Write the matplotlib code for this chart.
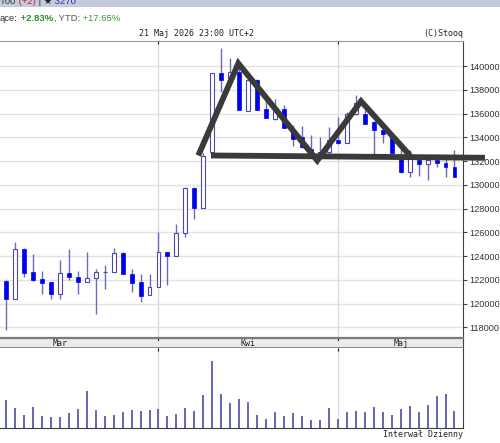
import matplotlib
matplotlib.use('agg')
import matplotlib.pyplot as plt
from matplotlib.patches import Rectangle

# daily candles, 9 Mar - 21 May 2026 (index = trading day on the chart)
opens = [121920, 120400, 124600, 122620, 122080, 121800, 120800, 122560, 122220, 121800,
         122140, 122640, 122640, 124240, 122500, 121780, 120710, 121380, 124360, 124030,
         125930, 129770, 128030, 132800, 139450, 139000, 139500, 136220, 138850, 136410,
         135550, 136360, 134560, 134030, 133000, 132800, 132760, 133800, 133560, 136000,
         136000, 135260, 134590, 134030, 132180, 131080, 132100, 131740, 132070, 131850,
         131510]
highs = [121950, 125220, 124650, 124160, 122780, 121800, 123680, 124580, 122780, 124320,
         122920, 123260, 124690, 124380, 122900, 122480, 122500, 126060, 124360, 126690,
         129850, 129850, 132700, 139450, 141550, 140640, 139860, 138880, 138900, 137060,
         137200, 136690, 135050, 134920, 134170, 134030, 134870, 135700, 136100, 137580,
         136280, 135400, 134920, 134100, 133240, 132910, 132460, 132270, 132630, 132460,
         132910]
lows = [117800, 120400, 122220, 121860, 120820, 120380, 120380, 121940, 120820, 121800,
        119100, 121240, 122640, 122500, 120940, 120120, 120710, 121380, 121540, 124030,
        125570, 127100, 128030, 132700, 137850, 138800, 136270, 136220, 136300, 135600,
        135430, 134760, 133300, 133130, 132500, 132350, 132600, 133400, 133500, 135900,
        135100, 132630, 133520, 132600, 131000, 130640, 130780, 130420, 131480, 130670,
        130650]
closes = [120400, 124580, 122560, 122000, 121720, 120820, 122560, 122220, 121800, 122140,
          122640, 122640, 124240, 122500, 121720, 120660, 121380, 124340, 124030, 125930,
          129770, 128030, 132420, 139450, 138850, 139500, 136270, 138800, 136330, 135650,
          136200, 134760, 133850, 133200, 132700, 132400, 133800, 133500, 136000, 136900,
          135150, 134590, 134310, 132690, 131080, 132320, 131740, 132070, 131850, 131510,
          130670]
volumes = [85, 60, 40, 63, 35, 33, 32, 45, 57, 112, 55, 35, 40, 48, 54, 50, 54, 57, 35, 42,
           60, 50, 98, 200, 101, 74, 88, 79, 38, 27, 48, 36, 45, 35, 25, 23, 59, 27, 48, 50,
           48, 63, 48, 38, 57, 65, 48, 70, 97, 102, 50]

month_names = ["Mar", "Kwi", "Maj"]
month_label_pos = [6, 27, 44]
month_starts = [17, 37]
price_ticks = list(range(118000, 140001, 2000))

# drawn pattern (candle index, price)
pattern_x = [21.44, 25.9, 34.7, 39.58, 45.04]
pattern_y = [132470, 140230, 132050, 137040, 132470]
neck_x = [22.85, 53.4]
neck_y = [132470, 132280]

W, H = 500, 443
fig = plt.figure(figsize=(W / 100, H / 100), dpi=100)


def box(x0, y0, x1, y1):
    return [x0 / W, 1 - y1 / H, (x1 - x0) / W, (y1 - y0) / H]


ax = fig.add_axes(box(0, 41, 463, 338))
band = fig.add_axes(box(0, 338, 463, 348))
axv = fig.add_axes(box(0, 348, 463, 428))

xlim = (-0.67, 50.95)
n = len(opens)
xs = list(range(n))

# price panel
for p in price_ticks:
    ax.axhline(p, color='#e2e2e2', lw=1, zorder=0)
for m in month_starts:
    ax.axvline(m, color='#dadada', lw=1, zorder=0)
    axv.axvline(m, color='#dadada', lw=1, zorder=0)

ax.vlines(xs, lows, highs, color='#6a6ab8', lw=1, zorder=2)
for i in xs:
    o, c = opens[i], closes[i]
    lo, hi = min(o, c), max(o, c)
    if c < o:
        ax.add_patch(Rectangle((i - 0.22, lo), 0.44, hi - lo, facecolor='#0000ee',
                               edgecolor='#0000ee', lw=0.5, zorder=3))
    else:
        ax.add_patch(Rectangle((i - 0.22, lo), 0.44, hi - lo, facecolor='white',
                               edgecolor='#4a4aa8', lw=0.8, zorder=3))

ax.plot(pattern_x, pattern_y, color='#3a3a3a', lw=4.2, solid_joinstyle='miter',
        solid_capstyle='butt', clip_on=False, zorder=6)
ax.plot(neck_x, neck_y, color='#3a3a3a', lw=4.2, solid_capstyle='butt',
        clip_on=False, zorder=6)

ax.set_xlim(*xlim)
ax.set_ylim(117095, 142114)
ax.yaxis.tick_right()
ax.set_yticks(price_ticks)
ax.set_yticklabels([str(p) for p in price_ticks], fontsize=6.6,
                   fontfamily='Liberation Sans', color='#333333')
ax.tick_params(axis='y', length=3, width=0.8, pad=1.5, color='#444444')
ax.set_xticks(month_starts)
ax.tick_params(axis='x', length=2, width=0.8, direction='in', top=True, bottom=False,
               labelbottom=False, color='#222222')
for s in ['left', 'bottom']:
    ax.spines[s].set_visible(False)
ax.spines['top'].set_color('#999999')
ax.spines['right'].set_color('#404040')

# month band
band.set_xlim(*xlim)
band.set_ylim(0, 1)
band.set_facecolor('#ebebeb')
band.set_xticks([])
band.set_yticks([])
band.spines['left'].set_visible(False)
band.spines['top'].set_color('#7a7a7a')
band.spines['top'].set_linewidth(1.6)
band.spines['bottom'].set_color('#7a7a7a')
band.spines['bottom'].set_linewidth(1.2)
band.spines['right'].set_color('#404040')
for name, pos in zip(month_names, month_label_pos):
    band.text(pos, 0.45, name, ha='center', va='center', fontsize=6,
              fontfamily='DejaVu Sans Mono', color='#222222')
for m in month_starts:
    band.plot([m, m], [0.85, 1.0], color='#222222', lw=0.8)

# volume panel
axv.vlines(xs, 0, volumes, color='#5b5bb5', lw=1.3)
axv.set_xlim(*xlim)
axv.set_ylim(0, 240)
axv.set_xticks(month_starts)
axv.tick_params(axis='x', length=2, width=0.8, direction='in', top=True, bottom=False,
                labelbottom=False, color='#222222')
axv.set_yticks([])
axv.spines['left'].set_visible(False)
axv.spines['top'].set_visible(False)
axv.spines['right'].set_color('#404040')
axv.spines['bottom'].set_color('#404040')

# header
fig.patches.append(Rectangle((0, 1 - 7 / H), 1, 7 / H, transform=fig.transFigure,
                             facecolor='#c4cbdc', edgecolor='none'))
renderer = fig.canvas.get_renderer()


def run_text(pieces, y, size):
    x = 0
    for s, color, weight in pieces:
        t = fig.text(x / W, 1 - y / H, s, color=color, fontweight=weight, fontsize=size,
                     family=['Liberation Sans', 'DejaVu Sans'], va='baseline')
        x += t.get_window_extent(renderer).width


run_text([("T00", '#333333', 'normal'), (" (+2)", '#cc2222', 'normal'),
          (" | \u2605", '#222222', 'normal'), (" 3270", '#2233bb', 'normal')], 4, 6.8)
run_text([("ące:", '#333333', 'normal'), (" +2.83%", '#2e8b2e', 'bold'),
          (",", '#555555', 'normal'), (" YTD:", '#555555', 'normal'),
          (" +17.65%", '#3c9a3c', 'normal')], 21, 6.8)

fig.text(196.5 / W, 1 - 35.5 / H, "21 Maj 2026 23:00 UTC+2", ha='center', va='baseline',
         fontsize=6, fontfamily='DejaVu Sans Mono', color='#222222')
fig.text(463 / W, 1 - 35.5 / H, "(C)Stooq", ha='right', va='baseline',
         fontsize=6, fontfamily='DejaVu Sans Mono', color='#222222')
fig.text(463 / W, 1 - 437 / H, "Interwał Dzienny", ha='right', va='baseline',
         fontsize=6, fontfamily='DejaVu Sans Mono', color='#222222')

fig.savefig('out.png', dpi=100)
